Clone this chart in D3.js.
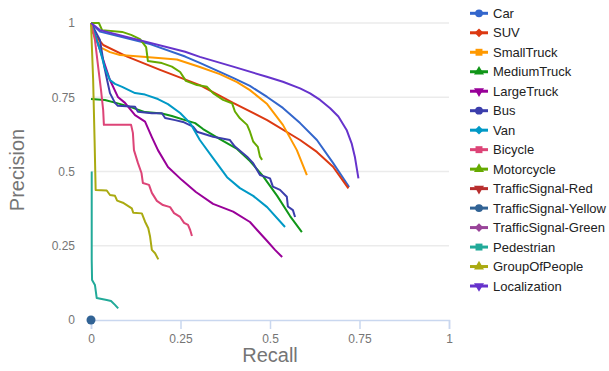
<!DOCTYPE html>
<html>
<head>
<meta charset="utf-8">
<script src="https://cdn.jsdelivr.net/npm/d3@7"></script>
<style>
  body { margin: 0; background: #fff; }
  svg text { font-family: Arial, "Liberation Sans", sans-serif; }
</style>
</head>
<body>
<div id="chart"></div>
<script>
// series names, colours and legend markers (Google default palette)
var seriesNames = ["Car", "SUV", "SmallTruck", "MediumTruck", "LargeTruck", "Bus", "Van", "Bicycle",
    "Motorcycle", "TrafficSignal-Red", "TrafficSignal-Yellow", "TrafficSignal-Green", "Pedestrian",
    "GroupOfPeople", "Localization"];
var seriesColors = ["#3366cc", "#dc3912", "#ff9900", "#109618", "#990099", "#3b3eac", "#0099c6", "#dd4477",
    "#66aa00", "#b82e2e", "#316395", "#994499", "#22aa99", "#aaaa11", "#6633cc"];
var seriesMarkers = ["circle", "diamond", "square", "triangle", "triangleDown", "circle", "diamond", "square",
    "triangle", "triangleDown", "circle", "diamond", "square", "triangle", "triangleDown"];

var xTicks = [0, 0.25, 0.5, 0.75, 1];
var yTicks = [0, 0.25, 0.5, 0.75, 1];

// [recall, precision]
var car = [[0, 1], [0.025, 0.971], [0.165, 0.929], [0.263, 0.887], [0.304, 0.866], [0.397, 0.815],
    [0.444, 0.788], [0.492, 0.751], [0.536, 0.714], [0.584, 0.663], [0.631, 0.606], [0.676, 0.529], [0.721, 0.448]];
var suv = [[0, 1], [0.006, 0.966], [0.034, 0.926], [0.101, 0.887], [0.193, 0.842], [0.304, 0.791],
    [0.397, 0.731], [0.492, 0.673], [0.584, 0.606], [0.631, 0.566], [0.676, 0.516], [0.719, 0.443]];
var smallTruck = [[0, 1], [0.011, 0.960], [0.025, 0.919], [0.053, 0.902], [0.081, 0.892], [0.145, 0.886],
    [0.240, 0.877], [0.304, 0.852], [0.360, 0.828], [0.408, 0.801], [0.444, 0.774], [0.492, 0.727],
    [0.536, 0.657], [0.575, 0.572], [0.603, 0.488]];
var mediumTruck = [[0, 0.744], [0.039, 0.741], [0.067, 0.732], [0.103, 0.720], [0.151, 0.700], [0.198, 0.695],
    [0.226, 0.687], [0.263, 0.673], [0.291, 0.663], [0.313, 0.643], [0.360, 0.609], [0.408, 0.576],
    [0.444, 0.535], [0.480, 0.485], [0.520, 0.418], [0.556, 0.350], [0.589, 0.296]];
var largeTruck = [[0, 1], [0.025, 0.909], [0.053, 0.808], [0.075, 0.751], [0.095, 0.731], [0.123, 0.690],
    [0.151, 0.668], [0.170, 0.616], [0.187, 0.572], [0.215, 0.515], [0.254, 0.471], [0.293, 0.431],
    [0.341, 0.391], [0.397, 0.365], [0.444, 0.330], [0.464, 0.303], [0.492, 0.266], [0.514, 0.236], [0.534, 0.212]];
var bus = [[0, 1], [0.025, 0.943], [0.036, 0.859], [0.045, 0.808], [0.053, 0.764], [0.067, 0.731],
    [0.075, 0.721], [0.123, 0.718], [0.131, 0.701], [0.170, 0.696], [0.198, 0.696], [0.207, 0.680],
    [0.235, 0.673], [0.257, 0.667], [0.285, 0.651], [0.296, 0.634], [0.341, 0.617], [0.388, 0.606],
    [0.402, 0.584], [0.436, 0.550], [0.453, 0.528], [0.472, 0.488], [0.500, 0.477], [0.508, 0.449],
    [0.528, 0.438], [0.547, 0.415], [0.550, 0.382], [0.564, 0.370], [0.570, 0.347]];
var van = [[0, 1], [0.011, 0.960], [0.025, 0.909], [0.039, 0.848], [0.053, 0.808], [0.067, 0.795],
    [0.087, 0.785], [0.123, 0.764], [0.151, 0.759], [0.187, 0.744], [0.215, 0.727], [0.249, 0.697],
    [0.277, 0.663], [0.304, 0.606], [0.341, 0.545], [0.380, 0.481], [0.416, 0.444], [0.453, 0.418],
    [0.492, 0.380], [0.542, 0.313]];
var bicycle = [[0, 1], [0.011, 0.943], [0.020, 0.852], [0.028, 0.774], [0.034, 0.707], [0.036, 0.657],
    [0.112, 0.657], [0.117, 0.630], [0.120, 0.572], [0.131, 0.529], [0.141, 0.495], [0.145, 0.461],
    [0.162, 0.455], [0.170, 0.428], [0.184, 0.401], [0.201, 0.387], [0.221, 0.380], [0.232, 0.360],
    [0.249, 0.347], [0.260, 0.327], [0.271, 0.320], [0.277, 0.303], [0.282, 0.283]];
var motorcycle = [[0, 1], [0.022, 1], [0.031, 0.976], [0.087, 0.970], [0.112, 0.960], [0.137, 0.946],
    [0.154, 0.919], [0.159, 0.872], [0.198, 0.865], [0.226, 0.853], [0.249, 0.835], [0.265, 0.805],
    [0.296, 0.791], [0.324, 0.785], [0.341, 0.764], [0.369, 0.741], [0.394, 0.730], [0.402, 0.702],
    [0.416, 0.679], [0.436, 0.657], [0.444, 0.634], [0.453, 0.601], [0.466, 0.583], [0.472, 0.550], [0.478, 0.539]];
var signalRed = [];
var signalYellow = [[0, 0]];
var signalGreen = [];
var pedestrian = [[0.002, 0.5], [0.002, 0.202], [0.003, 0.135], [0.011, 0.118], [0.016, 0.074],
    [0.044, 0.067], [0.056, 0.064], [0.067, 0.051], [0.076, 0.039]];
var groupOfPeople = [[0, 1], [0.006, 0.808], [0.010, 0.606], [0.013, 0.438], [0.044, 0.436], [0.053, 0.421],
    [0.067, 0.418], [0.073, 0.402], [0.089, 0.395], [0.114, 0.376], [0.118, 0.361], [0.142, 0.359],
    [0.151, 0.331], [0.160, 0.309], [0.165, 0.281], [0.170, 0.236], [0.179, 0.225], [0.188, 0.204]];
var localization = [[0, 1], [0.025, 0.976], [0.263, 0.903], [0.304, 0.886], [0.397, 0.853], [0.491, 0.819],
    [0.536, 0.802], [0.584, 0.780], [0.612, 0.763], [0.640, 0.741], [0.668, 0.713], [0.691, 0.685],
    [0.714, 0.640], [0.728, 0.595], [0.737, 0.550], [0.747, 0.477]];

var seriesData = [car, suv, smallTruck, mediumTruck, largeTruck, bus, van, bicycle, motorcycle,
    signalRed, signalYellow, signalGreen, pedestrian, groupOfPeople, localization];

var width = 609, height = 371;
var plot = { left: 91, right: 449, top: 23, bottom: 320 };

var x = d3.scaleLinear().domain([0, 1]).range([plot.left, plot.right]);
var y = d3.scaleLinear().domain([0, 1]).range([plot.bottom, plot.top]);

var svg = d3.select("#chart").append("svg")
    .attr("width", width)
    .attr("height", height);

function markerPath(kind, size) {
    if (kind === "circle") return d3.symbol(d3.symbolCircle, size)();
    if (kind === "square") return d3.symbol(d3.symbolSquare, size)();
    if (kind === "diamond") return d3.symbol(d3.symbolSquare, size * 0.8)();
    return d3.symbol(d3.symbolTriangle, size * 0.9)();
}

function markerRotate(kind) {
    if (kind === "diamond") return 45;
    if (kind === "triangleDown") return 180;
    return 0;
}

function drawGrid() {
    svg.append("g").attr("class", "grid")
        .selectAll("line")
        .data(yTicks.filter(function (d) { return d > 0; }))
        .enter().append("line")
        .attr("x1", plot.left)
        .attr("x2", plot.right)
        .attr("y1", function (d) { return y(d); })
        .attr("y2", function (d) { return y(d); })
        .attr("stroke", "#ebebeb")
        .attr("stroke-width", 1.5);
}

function drawAxes() {
    let xAxis = d3.axisBottom(x)
        .tickValues(xTicks)
        .tickSize(9)
        .tickPadding(5)
        .tickFormat(d3.format("~g"));
    let gx = svg.append("g")
        .attr("transform", `translate(0,${plot.bottom})`)
        .call(xAxis);
    gx.select(".domain").attr("stroke", "#c9d7ef").attr("stroke-width", 1.5);
    gx.selectAll(".tick line").attr("stroke", "#c9d7ef").attr("stroke-width", 1.5);
    gx.selectAll("text").attr("fill", "#757575").attr("font-size", 12);

    let yAxis = d3.axisLeft(y)
        .tickValues(yTicks)
        .tickSize(0)
        .tickPadding(16)
        .tickFormat(d3.format("~g"));
    let gy = svg.append("g")
        .attr("transform", `translate(${plot.left},0)`)
        .call(yAxis);
    gy.select(".domain").remove();
    gy.selectAll("text").attr("fill", "#757575").attr("font-size", 12);

    svg.append("text")
        .attr("x", (plot.left + plot.right) / 2)
        .attr("y", 362)
        .attr("text-anchor", "middle")
        .attr("fill", "#757575")
        .attr("font-size", 20)
        .text("Recall");
    svg.append("text")
        .attr("transform", "translate(24,170) rotate(-90)")
        .attr("text-anchor", "middle")
        .attr("fill", "#757575")
        .attr("font-size", 20)
        .text("Precision");
}

function drawSeries() {
    let line = d3.line()
        .x(function (d) { return x(d[0]); })
        .y(function (d) { return y(d[1]); });
    let series = seriesData.map(function (d, i) {
        return { name: seriesNames[i], color: seriesColors[i], values: d };
    });
    let g = svg.append("g").attr("class", "series");
    g.selectAll("path.line")
        .data(series.filter(function (d) { return d.values.length > 1; }))
        .enter().append("path")
        .attr("class", "line")
        .attr("d", function (d) { return line(d.values); })
        .attr("fill", "none")
        .attr("stroke", function (d) { return d.color; })
        .attr("stroke-width", 2)
        .attr("stroke-linejoin", "round");
    // single-point series show up as a dot
    g.selectAll("circle.single")
        .data(series.filter(function (d) { return d.values.length === 1; }))
        .enter().append("circle")
        .attr("class", "single")
        .attr("cx", function (d) { return x(d.values[0][0]); })
        .attr("cy", function (d) { return y(d.values[0][1]); })
        .attr("r", 4.5)
        .attr("fill", function (d) { return d.color; });
}

function drawLegend() {
    let legend = svg.append("g").attr("class", "legend")
        .selectAll("g")
        .data(seriesNames)
        .enter().append("g")
        .attr("transform", function (d, i) { return `translate(470,${13.3 + i * 19.48})`; });
    legend.append("line")
        .attr("x1", 0)
        .attr("x2", 18)
        .attr("stroke", function (d, i) { return seriesColors[i]; })
        .attr("stroke-width", 3);
    legend.append("path")
        .attr("d", function (d, i) { return markerPath(seriesMarkers[i], 48); })
        .attr("transform", function (d, i) { return `translate(9,0) rotate(${markerRotate(seriesMarkers[i])})`; })
        .attr("fill", function (d, i) { return seriesColors[i]; });
    legend.append("text")
        .attr("x", 23)
        .attr("dy", "0.35em")
        .attr("fill", "#222")
        .attr("font-size", 13)
        .text(function (d) { return d; });
}

drawGrid();
drawAxes();
drawSeries();
drawLegend();
</script>
</body>
</html>
